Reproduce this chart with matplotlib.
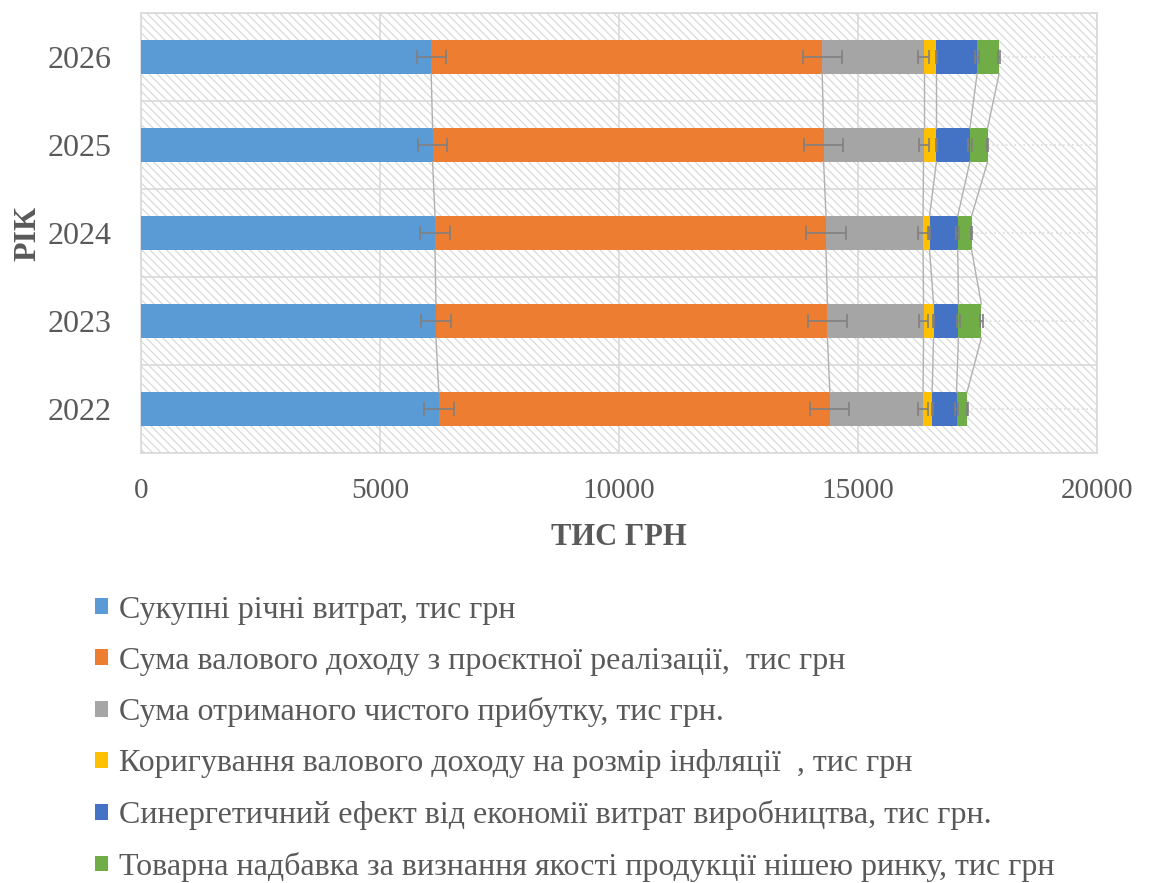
import numpy as np
import matplotlib
matplotlib.use('Agg')
import matplotlib.pyplot as plt
from matplotlib.patches import Rectangle, Patch

plt.rcParams['font.family'] = ['Liberation Serif', 'DejaVu Serif']
plt.rcParams['hatch.color'] = '#d6d6d6'
plt.rcParams['hatch.linewidth'] = 0.8

# ── дані ──────────────────────────────────────────────
years = ['2022', '2023', '2024', '2025', '2026']
costs = [6230, 6170, 6150, 6100, 6070]
gross_income = [8180, 8190, 8180, 8180, 8180]
net_profit = [1950, 2010, 2030, 2090, 2120]
inflation_adj = [190, 210, 135, 270, 270]
synergy = [510, 520, 590, 700, 850]
quality_bonus = [220, 480, 290, 370, 460]

series_names = [
    'Сукупні річні витрат, тис грн',
    'Сума валового доходу з проєктної реалізації,  тис грн',
    'Сума отриманого чистого прибутку, тис грн.',
    'Коригування валового доходу на розмір інфляції  , тис грн',
    'Синергетичний ефект від економії витрат виробництва, тис грн.',
    'Товарна надбавка за визнання якості продукції нішею ринку, тис грн',
]
colors = ['#5B9BD5', '#ED7D31', '#A5A5A5', '#FFC000', '#4472C4', '#70AD47']
txt = '#595959'

data = np.array([costs, gross_income, net_profit, inflation_adj, synergy, quality_bonus], dtype=float)
y = np.arange(len(years))
bar_h = 0.384

fig = plt.figure(figsize=(11.52, 8.83), dpi=100)
ax = fig.add_axes([0.1224, 0.487, 0.8299, 0.4983])
ax.set_axisbelow(True)

# фон зі штрихуванням
ax.patch.set_facecolor('white')
ax.add_patch(Rectangle((0, 0), 1, 1, transform=ax.transAxes, facecolor='white',
                       edgecolor='#d6d6d6', hatch='\\\\\\\\', linewidth=0, zorder=0))

left = np.zeros(len(years))
ends = []
for vals, col in zip(data, colors):
    ax.barh(y, vals, left=left, height=bar_h, color=col, zorder=3)
    left = left + vals
    ends.append(left.copy())
    # похибки 5%
    ax.errorbar(left, y, xerr=vals * 0.05, fmt='none', ecolor='#808080',
                elinewidth=1.2, capsize=5, capthick=1.2, zorder=5)

# лінії рядів між стовпцями
for e in ends:
    for i in range(len(years) - 1):
        ax.plot([e[i], e[i + 1]], [y[i] + bar_h / 2, y[i + 1] - bar_h / 2],
                color='#b0b0b0', lw=1.0, zorder=4)

# пунктир від кінця стовпця до краю
ax.hlines(y, ends[-1], 20000, colors='#dcdcdc', linestyles=':', lw=1.2, zorder=2)

ax.set_xlim(0, 20000)
ax.set_ylim(-0.5, len(years) - 0.5)
ax.set_xticks([0, 5000, 10000, 15000, 20000])
ax.set_yticks(y)
ax.set_yticklabels(years)
ax.set_yticks(np.arange(-0.5, len(years), 1.0), minor=True)
ax.grid(axis='x', color='#d9d9d9', lw=1.2, zorder=1)
ax.grid(axis='y', which='minor', color='#d9d9d9', lw=1.2, zorder=1)
ax.grid(axis='y', which='major', visible=False)
ax.tick_params(axis='both', which='both', length=0, labelcolor=txt)
ax.tick_params(axis='y', labelsize=23, pad=21)
ax.tick_params(axis='x', labelsize=21, pad=18)
for s in ax.spines.values():
    s.set_color('#d9d9d9')
    s.set_linewidth(1.2)

ax.set_xlabel('ТИС ГРН', fontsize=22, fontweight='bold', color=txt, labelpad=14)
ax.set_ylabel('РІК', fontsize=23, fontweight='bold', color=txt)
ax.yaxis.set_label_coords(-0.103, 0.5)

handles = [Patch(facecolor=c, edgecolor='none') for c in colors]
fig.legend(handles, series_names, loc='upper left', bbox_to_anchor=(0.069, 0.3435),
           frameon=False, fontsize=23, labelcolor=txt, handlelength=0.38,
           handleheight=0.38, handletextpad=0.37, labelspacing=0.685, borderpad=0)

fig.savefig('out.png', dpi=100)
